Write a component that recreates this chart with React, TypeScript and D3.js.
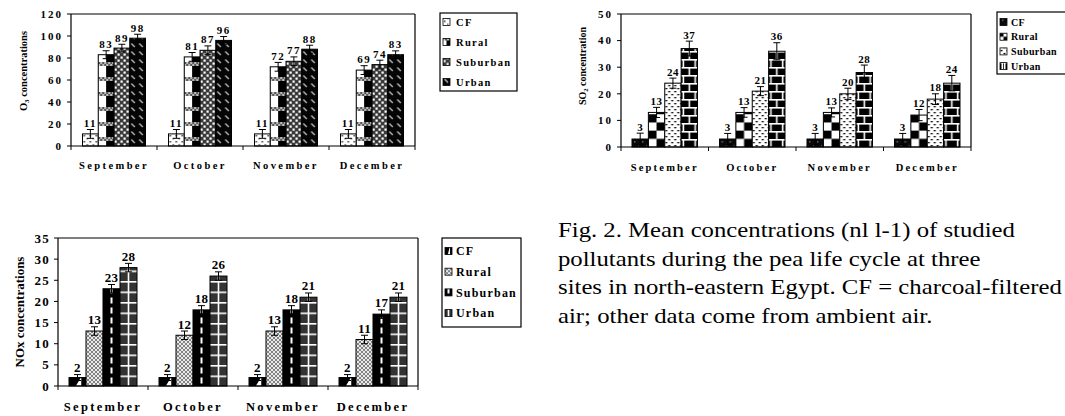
import React from 'react';
import * as d3 from 'd3';

const MONTHS = ['September', 'October', 'November', 'December'];
const SITES = ['CF', 'Rural', 'Suburban', 'Urban'];

// O3 (nl l-1)
const o3CF = [11, 11, 11, 11];
const o3Rural = [83, 81, 72, 69];
const o3Suburban = [89, 87, 77, 74];
const o3Urban = [98, 96, 88, 83];
const o3CFErr = [4, 4, 4, 4];
const o3RuralErr = [3.6, 4, 4, 4];
const o3SuburbanErr = [3.5, 4, 4, 4];
const o3UrbanErr = [3.6, 3.5, 3.6, 3.5];
const O3_TICKS = [0, 20, 40, 60, 80, 100, 120];

// SO2
const so2CF = [3, 3, 3, 3];
const so2Rural = [13, 13, 13, 12];
const so2Suburban = [24, 21, 20, 18];
const so2Urban = [37, 36, 28, 24];
const so2CFErr = [2.2, 2.1, 2.1, 2.1];
const so2RuralErr = [1.9, 1.8, 1.7, 2.1];
const so2SuburbanErr = [1.9, 1.7, 2.1, 2];
const so2UrbanErr = [2.8, 3.2, 2.8, 2.9];
const SO2_TICKS = [0, 10, 20, 30, 40, 50];

// NOx
const noxCF = [2, 2, 2, 2];
const noxRural = [13, 12, 13, 11];
const noxSuburban = [23, 18, 18, 17];
const noxUrban = [28, 26, 21, 21];
const noxCFErr = [0.7, 0.7, 0.7, 0.7];
const noxRuralErr = [1, 1, 1, 1];
const noxSuburbanErr = [1, 1, 1, 1];
const noxUrbanErr = [1, 1, 1, 1];
const NOX_TICKS = [0, 5, 10, 15, 20, 25, 30, 35];

const CAPTION = [
  'Fig. 2. Mean concentrations (nl l-1) of  studied',
  'pollutants during the pea life cycle at three',
  'sites in north-eastern Egypt. CF = charcoal-filtered',
  'air; other data come from ambient air.',
];

const SERIF = '"Liberation Serif", "Times New Roman", serif';

type Cfg = {
  id: string;
  values: number[][];
  errors: number[][];
  ticks: number[];
  plot: { x0: number; x1: number; y0: number; y1: number };
  groupPad: number;
  title: [string, string, string];
  titleX: number;
  titleY: number;
  titleSize: number;
  tickSize: number;
  tickLS: number;
  valueSize: number;
  valueLS: number;
  xlabSize: number;
  xlabLS: number;
  xlabY: number;
  legend: { x: number; y: number; w: number; h: number; row0: number; step: number; iconX: number; textX: number; size: number; ls: number };
  patterns: string[];
};

const CHARTS: Cfg[] = [
  {
    id: 'o3',
    values: [o3CF, o3Rural, o3Suburban, o3Urban],
    errors: [o3CFErr, o3RuralErr, o3SuburbanErr, o3UrbanErr],
    ticks: O3_TICKS,
    plot: { x0: 71, x1: 415, y0: 14, y1: 146 },
    groupPad: 11.5,
    title: ['O', '3', ' concentrations'],
    titleX: 23,
    titleY: 71,
    titleSize: 10.5,
    tickSize: 11,
    tickLS: 2,
    valueSize: 11,
    valueLS: 1.5,
    xlabSize: 10.5,
    xlabLS: 2.4,
    xlabY: 169,
    legend: { x: 440, y: 13, w: 77, h: 78, row0: 22, step: 20, iconX: 443, textX: 456, size: 10.5, ls: 1.3 },
    patterns: ['o3cf', 'o3rural', 'o3sub', 'o3urban'],
  },
  {
    id: 'so2',
    values: [so2CF, so2Rural, so2Suburban, so2Urban],
    errors: [so2CFErr, so2RuralErr, so2SuburbanErr, so2UrbanErr],
    ticks: SO2_TICKS,
    plot: { x0: 621, x1: 971, y0: 14, y1: 147 },
    groupPad: 11,
    title: ['SO', '2', ' concentration'],
    titleX: 582,
    titleY: 66,
    titleSize: 10,
    tickSize: 11,
    tickLS: 2,
    valueSize: 11,
    valueLS: 0.5,
    xlabSize: 10.5,
    xlabLS: 2.2,
    xlabY: 171,
    legend: { x: 997, y: 12, w: 80, h: 62, row0: 22, step: 14.7, iconX: 1000, textX: 1011, size: 10, ls: 0.4 },
    patterns: ['so2cf', 'so2rural', 'so2sub', 'so2urban'],
  },
  {
    id: 'nox',
    values: [noxCF, noxRural, noxSuburban, noxUrban],
    errors: [noxCFErr, noxRuralErr, noxSuburbanErr, noxUrbanErr],
    ticks: NOX_TICKS,
    plot: { x0: 58, x1: 418, y0: 238, y1: 386 },
    groupPad: 11,
    title: ['NOx concentrations', '', ''],
    titleX: 19,
    titleY: 312,
    titleSize: 13,
    tickSize: 13,
    tickLS: 1.2,
    valueSize: 13,
    valueLS: 0.3,
    xlabSize: 12.5,
    xlabLS: 2.3,
    xlabY: 411,
    legend: { x: 442, y: 238, w: 79, h: 89, row0: 251, step: 20.7, iconX: 445, textX: 456, size: 12, ls: 1.2 },
    patterns: ['noxcf', 'noxrural', 'noxsub', 'noxurban'],
  },
];

function PatternDef({ id, type, x, y, bw }: { id: string; type: string; x: number; y: number; bw: number }) {
  let w = 6;
  let h = 6;
  let kids: React.ReactNode[] = [];
  switch (type) {
    case 'o3cf':
      w = 6; h = 6;
      kids = [
        <rect key="b" width={w} height={h} fill="#fff" />,
        <rect key="a" x={1} y={1} width={1.5} height={1.5} fill="#333" />,
        <rect key="c" x={4} y={4} width={1.5} height={1.5} fill="#666" />,
      ];
      break;
    case 'o3rural': {
      w = bw; h = 15;
      kids = [
        <rect key="b" width={w} height={h} fill="#fff" />,
        <rect key="k" x={bw / 2} width={bw / 2} height={h} fill="#000" />,
        <rect key="band" y={6} width={bw} height={4} fill="#bdbdbd" />,
      ];
      const n = Math.ceil(bw / 2);
      for (let c = 0; c < n; c++) {
        for (let r = 0; r < 2; r++) {
          if ((c + r) % 2 === 0) kids.push(<rect key={`q${c}-${r}`} x={c * 2} y={6 + r * 2} width={2} height={2} fill="#555" />);
        }
      }
      break;
    }
    case 'o3sub':
      w = 6; h = 6;
      kids = [
        <rect key="b" width={w} height={h} fill="#3a3a3a" />,
        <rect key="a" x={0.5} y={0.5} width={2.2} height={2.2} fill="#fff" />,
        <rect key="c" x={3.5} y={3.5} width={2.2} height={2.2} fill="#fff" />,
      ];
      break;
    case 'o3urban':
      w = 8; h = 8;
      kids = [
        <rect key="b" width={w} height={h} fill="#050505" />,
        <line key="l" x1={1.5} y1={1.5} x2={5} y2={5} stroke="#c4c4c4" strokeWidth={1.3} />,
      ];
      break;
    case 'so2cf':
      w = 8; h = 8;
      kids = [
        <rect key="b" width={w} height={h} fill="#0a0a0a" />,
        <rect key="a" x={2} y={2} width={1.5} height={1.5} fill="#666" />,
        <rect key="c" x={6} y={6} width={1} height={1} fill="#555" />,
      ];
      break;
    case 'so2rural': {
      const s = bw / 2;
      w = bw; h = bw;
      kids = [
        <rect key="b" width={w} height={h} fill="#fff" />,
        <rect key="a" x={0} y={0} width={s} height={s} fill="#000" />,
        <rect key="c" x={s} y={s} width={s} height={s} fill="#000" />,
      ];
      break;
    }
    case 'so2sub':
      w = 6; h = 6;
      kids = [
        <rect key="b" width={w} height={h} fill="#fff" />,
        <rect key="a" x={0.5} y={1} width={2} height={1.3} fill="#000" />,
        <rect key="c" x={3.5} y={4} width={2} height={1.3} fill="#000" />,
      ];
      break;
    case 'so2urban':
      w = bw; h = 16;
      kids = [
        <rect key="b" width={w} height={h} fill="#000" />,
        <rect key="h1" x={0} y={0} width={bw} height={1.6} fill="#fff" />,
        <rect key="h2" x={0} y={8} width={bw} height={1.6} fill="#fff" />,
        <rect key="v1" x={bw / 2 - 0.8} y={0} width={1.6} height={8} fill="#fff" />,
        <rect key="v2" x={1.5} y={8} width={1.6} height={8} fill="#fff" />,
        <rect key="v3" x={bw - 3.1} y={8} width={1.6} height={8} fill="#fff" />,
      ];
      break;
    case 'noxcf':
      w = bw; h = 12;
      kids = [
        <rect key="b" width={w} height={h} fill="#000" />,
        <polygon key="t" points={`${bw * 0.4},12 ${bw * 0.72},3 ${bw * 0.72},12`} fill="#fff" />,
      ];
      break;
    case 'noxrural':
      w = 4; h = 4;
      kids = [
        <rect key="b" width={w} height={h} fill="#e9e9e9" />,
        <path key="p" d="M0,0L4,4M4,0L0,4" stroke="#6a6a6a" strokeWidth={0.8} />,
      ];
      break;
    case 'noxsub':
      w = bw; h = 10;
      kids = [
        <rect key="b" width={w} height={h} fill="#000" />,
        <rect key="d" x={bw / 2 - 1} y={1.5} width={2} height={6} fill="#fff" />,
      ];
      break;
    case 'noxurban':
      w = bw; h = 10.5;
      kids = [
        <rect key="b" width={w} height={h} fill="#333" />,
        <rect key="v" x={bw / 2 - 0.8} y={0} width={1.6} height={h} fill="#fff" />,
        <rect key="h" x={0} y={0} width={bw} height={1.6} fill="#fff" />,
      ];
      break;
  }
  return (
    <pattern id={id} patternUnits="userSpaceOnUse" x={x} y={y} width={w} height={h}>
      {kids}
    </pattern>
  );
}

function Chart({ c }: { c: Cfg }) {
  const { plot } = c;
  const yMax = c.ticks[c.ticks.length - 1];
  const y = d3.scaleLinear().domain([0, yMax]).range([plot.y1, plot.y0]);
  const xMonth = d3.scaleBand<string>().domain(MONTHS).range([plot.x0, plot.x1]).padding(0);
  const band = xMonth.bandwidth();
  const xSite = d3.scaleBand<string>().domain(SITES).range([c.groupPad, band - c.groupPad]).padding(0);
  const bw = xSite.bandwidth();
  const boundaries = [...MONTHS.map((m) => xMonth(m) as number), plot.x1];
  const capHalf = 3.5;
  const iconSize = 7;

  const bars: React.ReactNode[] = [];
  const defs: React.ReactNode[] = [];
  c.values.forEach((series, si) => {
    series.forEach((v, mi) => {
      const bx = (xMonth(MONTHS[mi]) as number) + (xSite(SITES[si]) as number);
      const pid = `${c.id}-p-${si}-${mi}`;
      defs.push(<PatternDef key={pid} id={pid} type={c.patterns[si]} x={bx} y={plot.y1} bw={bw} />);
      const e = c.errors[si][mi];
      const cx = bx + bw / 2;
      bars.push(
        <g key={`bar-${si}-${mi}`}>
          <rect x={bx} y={y(v)} width={bw} height={plot.y1 - y(v)} fill={`url(#${pid})`} stroke="#000" strokeWidth={1} />
          <line x1={cx} x2={cx} y1={y(v - e)} y2={y(v + e)} stroke="#000" strokeWidth={1} />
          <line x1={cx - capHalf} x2={cx + capHalf} y1={y(v + e)} y2={y(v + e)} stroke="#000" strokeWidth={1} />
          <line x1={cx - capHalf} x2={cx + capHalf} y1={y(v - e)} y2={y(v - e)} stroke="#000" strokeWidth={1} />
          <text x={cx} y={y(v + e) - 2.5} textAnchor="middle" fontSize={c.valueSize} fontWeight="bold" letterSpacing={c.valueLS} fontFamily={SERIF}>
            {v}
          </text>
        </g>
      );
    });
  });

  SITES.forEach((s, si) => {
    const ry = c.legend.row0 + si * c.legend.step;
    const pid = `${c.id}-leg-${si}`;
    defs.push(<PatternDef key={pid} id={pid} type={c.patterns[si]} x={c.legend.iconX} y={ry + iconSize / 2} bw={iconSize} />);
  });

  return (
    <g>
      <defs>{defs}</defs>
      <line x1={plot.x0} x2={plot.x1} y1={plot.y0} y2={plot.y0} stroke="#000" strokeWidth={1.2} />
      <line x1={plot.x1} x2={plot.x1} y1={plot.y0} y2={plot.y1} stroke="#000" strokeWidth={1.2} />
      {bars}
      <line x1={plot.x0} x2={plot.x0} y1={plot.y0} y2={plot.y1} stroke="#000" strokeWidth={1.2} />
      <line x1={plot.x0} x2={plot.x1} y1={plot.y1} y2={plot.y1} stroke="#000" strokeWidth={1.2} />
      {c.ticks.map((t) => (
        <g key={`yt-${t}`}>
          <line x1={plot.x0 - 4} x2={plot.x0} y1={y(t)} y2={y(t)} stroke="#000" strokeWidth={1} />
          <text x={plot.x0 - 8} y={y(t)} dy="0.35em" textAnchor="end" fontSize={c.tickSize} fontWeight="bold" letterSpacing={c.tickLS} fontFamily={SERIF}>
            {t}
          </text>
        </g>
      ))}
      {boundaries.map((bx, i) => (
        <line key={`xt-${i}`} x1={bx} x2={bx} y1={plot.y1} y2={plot.y1 + 4} stroke="#000" strokeWidth={1} />
      ))}
      {MONTHS.map((m) => (
        <text key={`xl-${m}`} x={(xMonth(m) as number) + band / 2} y={c.xlabY} textAnchor="middle" fontSize={c.xlabSize} fontWeight="bold" letterSpacing={c.xlabLS} fontFamily={SERIF}>
          {m}
        </text>
      ))}
      <text
        transform={`translate(${c.titleX},${c.titleY}) rotate(-90)`}
        textAnchor="middle"
        dy="0.35em"
        fontSize={c.titleSize}
        fontWeight="bold"
        fontFamily={SERIF}
      >
        {c.title[0]}
        {c.title[1] ? (
          <tspan dy={2.5} fontSize={c.titleSize * 0.65}>
            {c.title[1]}
          </tspan>
        ) : null}
        {c.title[2] ? <tspan dy={c.title[1] ? -2.5 : 0}>{c.title[2]}</tspan> : null}
      </text>
      <rect x={c.legend.x} y={c.legend.y} width={c.legend.w} height={c.legend.h} fill="#fff" stroke="#000" strokeWidth={1.2} />
      {SITES.map((s, si) => {
        const ry = c.legend.row0 + si * c.legend.step;
        return (
          <g key={`lg-${s}`}>
            <rect x={c.legend.iconX} y={ry - iconSize / 2} width={iconSize} height={iconSize} fill={`url(#${c.id}-leg-${si})`} stroke="#000" strokeWidth={0.8} />
            <text x={c.legend.textX} y={ry} dy="0.35em" fontSize={c.legend.size} fontWeight="bold" letterSpacing={c.legend.ls} fontFamily={SERIF}>
              {s}
            </text>
          </g>
        );
      })}
    </g>
  );
}

export default function App() {
  return (
    <svg width={1065} height={416} style={{ position: 'absolute', left: 0, top: 0, background: '#fff' }}>
      <rect width={1065} height={416} fill="#fff" />
      {CHARTS.map((c) => (
        <Chart key={c.id} c={c} />
      ))}
      {CAPTION.map((line, i) => (
        <text
          key={`cap-${i}`}
          transform={`translate(558,${237 + i * 28.7}) scale(1.125,1)`}
          fontSize={22}
          fontFamily={SERIF}
          fill="#000"
        >
          {line}
        </text>
      ))}
    </svg>
  );
}
